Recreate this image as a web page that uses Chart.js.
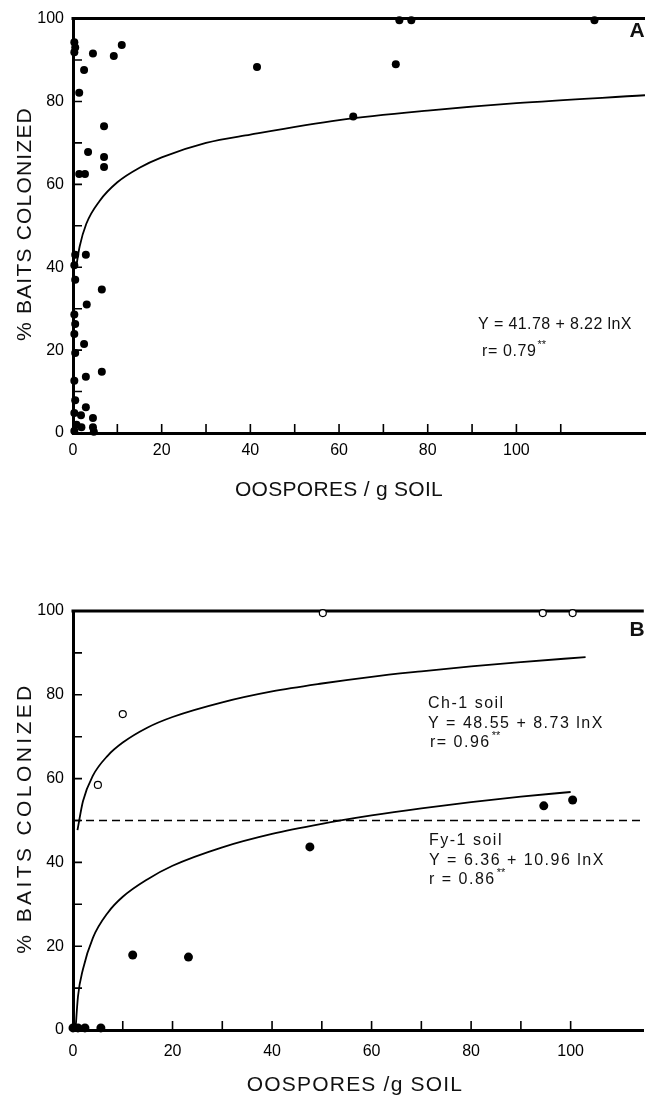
<!DOCTYPE html>
<html>
<head>
<meta charset="utf-8">
<script src="https://cdn.jsdelivr.net/npm/chart.js@4.4.0/dist/chart.umd.min.js"></script>
<style>
  html, body { margin: 0; padding: 0; background: #fff; overflow: hidden; }
  #panelA { position: absolute; left: 0; top: 0; }
  #panelB { position: absolute; left: 0; top: 560px; }
</style>
</head>
<body>
<canvas id="panelA" width="649" height="520"></canvas>
<canvas id="panelB" width="649" height="540"></canvas>
<script>
// ---- panel A: all soils, % baits colonized vs oospores/g soil ----
const aOosporesX = [0.3, 0.3, 0.5, 4.5, 9.2, 11, 2.5, 1.4, 7, 3.4, 7, 7, 1.4, 2.7,
  0.5, 0.3, 0.5, 2.9, 6.5, 3.1, 0.3, 0.5, 0.3, 2.5, 0.5, 0.3, 2.9, 6.5, 0.5, 0.3,
  2.9, 1.8, 4.5, 0.8, 1.9, 4.5, 4.7, 0.3,
  41.5, 63.2, 72.8, 73.6, 76.3, 117.6];
const aBaitsY = [94.3, 91.9, 93, 91.6, 91, 93.6, 87.6, 82.1, 74, 67.8, 66.6, 64.2, 62.5, 62.5,
  43, 40.5, 37, 43, 34.6, 31, 28.6, 26.3, 23.9, 21.5, 19.3, 12.6, 13.6, 14.8, 7.9, 4.8,
  6.2, 4.3, 3.6, 2, 1.4, 1.4, 0.3, 0.5,
  88.3, 76.4, 89, 99.6, 99.6, 99.6];
// fitted curve as drawn (Y = 41.78 + 8.22 lnX)
const aFitX = [0.7, 1.5, 3, 6, 10, 15, 20, 30, 40, 60, 80, 100, 129];
const aFitY = [40, 45, 50.5, 56, 60.5, 64, 66.5, 70, 72, 75.5, 77.8, 79.6, 81.5];

// ---- panel B: Ch-1 soil (open) and Fy-1 soil (filled) ----
const bChX = [5, 10, 50.2, 94.4, 100.4];
const bChY = [58.5, 75.4, 99.5, 99.5, 99.5];
const bFyX = [0, 1, 2.4, 5.6, 12, 23.2, 47.6, 94.6, 100.4];
const bFyY = [0.5, 0.5, 0.5, 0.5, 17.9, 17.4, 43.7, 53.5, 54.9];
const bChFitX = [0.9, 2, 4, 7, 10, 15, 20, 30, 40, 50, 60, 70, 80, 90, 103];
const bChFitY = [47.7, 54.6, 60.7, 65.5, 68.6, 72.2, 74.7, 78.2, 80.8, 82.7, 84.3, 85.6, 86.8, 87.8, 89];
const bFyFitX = [0.5, 1, 2, 4, 7, 10, 15, 20, 30, 40, 50, 60, 70, 80, 90, 100];
const bFyFitY = [0, 8, 14.5, 22, 28, 31.8, 36, 39.2, 43.6, 46.8, 49.2, 51.2, 52.9, 54.4, 55.7, 56.8];
const bThreshold = 50;

// axis ticks
const xTickLabels = [0, 20, 40, 60, 80, 100];
const yTickLabels = [0, 20, 40, 60, 80, 100];
const xMinorA = [10, 20, 30, 40, 50, 60, 70, 80, 90, 100, 110];
const xMinorB = [10, 20, 30, 40, 50, 60, 70, 80, 90, 100];
const yMinor = [10, 20, 30, 40, 50, 60, 70, 80, 90];

const pts = (xs, ys) => xs.map((x, i) => ({ x, y: ys[i] }));

Chart.defaults.font.family = "'Liberation Sans', Arial, sans-serif";
Chart.defaults.color = '#000';

// top frame line + inward tick marks
const frameTicks = {
  id: 'frameTicks',
  beforeDatasetsDraw(chart, args, opts) {
    const { ctx, chartArea: a } = chart;
    const x = chart.scales.x, y = chart.scales.y;
    ctx.save();
    ctx.strokeStyle = '#000';
    ctx.lineWidth = 3;
    ctx.beginPath();
    ctx.moveTo(a.left - 1.5, a.top);
    ctx.lineTo(a.right, a.top);
    ctx.stroke();
    ctx.lineWidth = 1.6;
    ctx.beginPath();
    opts.minorX.forEach(v => {
      const px = x.getPixelForValue(v);
      ctx.moveTo(px, a.bottom);
      ctx.lineTo(px, a.bottom - 9);
    });
    opts.minorY.forEach(v => {
      const py = y.getPixelForValue(v);
      ctx.moveTo(a.left, py);
      ctx.lineTo(a.left + 9, py);
    });
    ctx.stroke();
    ctx.restore();
  }
};

// free text: axis titles, equations, panel letters
const figureText = {
  id: 'figureText',
  afterDraw(chart, args, opts) {
    const ctx = chart.ctx;
    (opts.items || []).forEach(t => {
      ctx.save();
      ctx.font = t.font;
      ctx.fillStyle = '#111';
      ctx.letterSpacing = (t.spacing || 0) + 'px';
      ctx.textAlign = t.align || 'left';
      ctx.textBaseline = 'middle';
      ctx.translate(t.x, t.y);
      if (t.rotate) ctx.rotate(t.rotate);
      ctx.fillText(t.text, 0, 0);
      if (t.sup) {
        const w = ctx.measureText(t.text).width;
        ctx.font = "11px 'Liberation Sans'";
        ctx.letterSpacing = '0px';
        ctx.fillText(t.sup, w + 1, -7);
      }
      ctx.restore();
    });
  }
};

function scalesFor(xMax, xHeight, labelPad) {
  return {
    x: {
      type: 'linear', min: 0, max: xMax,
      afterBuildTicks: s => { s.ticks = xTickLabels.map(v => ({ value: v })); },
      afterFit: s => { s.height = xHeight; },
      grid: { display: false, drawTicks: false },
      border: { display: true, width: 3, color: '#000' },
      ticks: { font: { size: 16 }, padding: labelPad, maxRotation: 0, autoSkip: false }
    },
    y: {
      type: 'linear', min: 0, max: 100,
      afterBuildTicks: s => { s.ticks = yTickLabels.map(v => ({ value: v })); },
      afterFit: s => { s.width = 73; },
      grid: { display: false, drawTicks: false },
      border: { display: true, width: 3, color: '#000' },
      ticks: { font: { size: 16 }, padding: 9, autoSkip: false }
    }
  };
}

const common = {
  responsive: false,
  animation: false,
  events: [],
  plugins: { legend: { display: false }, tooltip: { enabled: false } }
};

new Chart(document.getElementById('panelA'), {
  type: 'scatter',
  data: {
    datasets: [
      {
        data: pts(aFitX, aFitY), showLine: true, borderColor: '#000', borderWidth: 1.8,
        pointRadius: 0, cubicInterpolationMode: 'monotone'
      },
      {
        data: pts(aOosporesX, aBaitsY), pointRadius: 4, backgroundColor: '#000',
        borderWidth: 0, clip: false
      }
    ]
  },
  options: {
    ...common,
    layout: { padding: { top: 14, left: 0, right: 0, bottom: 0 } },
    scales: scalesFor(129, 87, 8),
    plugins: {
      ...common.plugins,
      frameTicks: { minorX: xMinorA, minorY: yMinor },
      figureText: {
        items: [
          { text: '% BAITS COLONIZED', x: 25, y: 224, align: 'center', rotate: -Math.PI / 2, font: "21px 'Liberation Sans'", spacing: 1.2 },
          { text: 'OOSPORES / g SOIL', x: 339, y: 490, align: 'center', font: "21px 'Liberation Sans'", spacing: 0.3 },
          { text: 'Y = 41.78 + 8.22 lnX', x: 478, y: 325, font: "16px 'Liberation Sans'", spacing: 0.4 },
          { text: 'r= 0.79', x: 482, y: 352, font: "16px 'Liberation Sans'", spacing: 0.6, sup: '**' },
          { text: 'A', x: 637, y: 31, align: 'center', font: "bold 21px 'Liberation Sans'" }
        ]
      }
    }
  },
  plugins: [frameTicks, figureText]
});

new Chart(document.getElementById('panelB'), {
  type: 'scatter',
  data: {
    datasets: [
      {
        data: [{ x: 0, y: bThreshold }, { x: 114.7, y: bThreshold }], showLine: true,
        borderColor: '#000', borderWidth: 1.3, borderDash: [8, 5], pointRadius: 0
      },
      {
        data: pts(bChFitX, bChFitY), showLine: true, borderColor: '#000', borderWidth: 1.8,
        pointRadius: 0, cubicInterpolationMode: 'monotone'
      },
      {
        data: pts(bFyFitX, bFyFitY), showLine: true, borderColor: '#000', borderWidth: 1.8,
        pointRadius: 0, cubicInterpolationMode: 'monotone'
      },
      {
        data: pts(bChX, bChY), pointRadius: 3.5, backgroundColor: '#fff',
        borderColor: '#000', borderWidth: 1.2, clip: false
      },
      {
        data: pts(bFyX, bFyY), pointRadius: 4.5, backgroundColor: '#000',
        borderWidth: 0, clip: false
      }
    ]
  },
  options: {
    ...common,
    layout: { padding: { top: 51, left: 0, right: 0, bottom: 0 } },
    scales: scalesFor(114.7, 70, 12),
    plugins: {
      ...common.plugins,
      frameTicks: { minorX: xMinorB, minorY: yMinor },
      figureText: {
        items: [
          { text: '% BAITS COLONIZED', x: 25, y: 258, align: 'center', rotate: -Math.PI / 2, font: "21px 'Liberation Sans'", spacing: 3.4 },
          { text: 'OOSPORES /g SOIL', x: 355, y: 525, align: 'center', font: "21px 'Liberation Sans'", spacing: 1.2 },
          { text: 'Ch-1 soil', x: 428, y: 144, font: "16px 'Liberation Sans'", spacing: 1.5 },
          { text: 'Y = 48.55 + 8.73 lnX', x: 428, y: 164, font: "16px 'Liberation Sans'", spacing: 1.5 },
          { text: 'r= 0.96', x: 430, y: 183, font: "16px 'Liberation Sans'", spacing: 1.5, sup: '**' },
          { text: 'Fy-1 soil', x: 429, y: 281, font: "16px 'Liberation Sans'", spacing: 1.5 },
          { text: 'Y = 6.36 + 10.96 lnX', x: 429, y: 301, font: "16px 'Liberation Sans'", spacing: 1.5 },
          { text: 'r = 0.86', x: 429, y: 320, font: "16px 'Liberation Sans'", spacing: 1.5, sup: '**' },
          { text: 'B', x: 637, y: 70, align: 'center', font: "bold 21px 'Liberation Sans'" }
        ]
      }
    }
  },
  plugins: [frameTicks, figureText]
});
</script>
</body>
</html>
